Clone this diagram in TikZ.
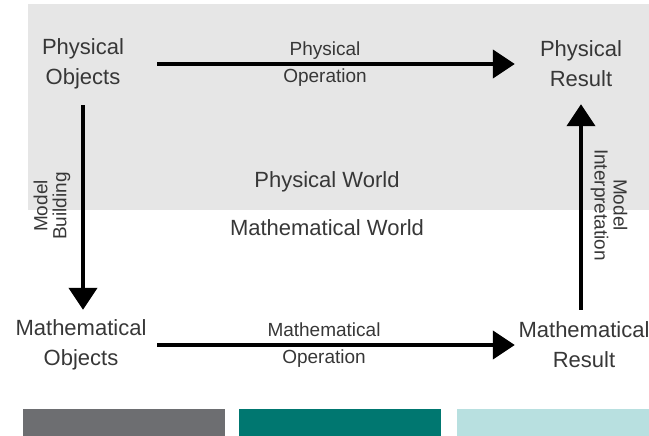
\documentclass[tikz,border=0pt]{standalone}
\usepackage{fontspec}
\setmainfont{Liberation Sans}
\usetikzlibrary{arrows.meta}
\definecolor{txt}{RGB}{55,55,55}
\definecolor{bgworld}{RGB}{230,230,230}
\definecolor{bargray}{RGB}{109,110,113}
\definecolor{barteal}{RGB}{0,119,112}
\definecolor{barlight}{RGB}{184,224,224}
\tikzset{
  big/.style={text=txt, font=\fontsize{22}{30}\selectfont, align=center, inner sep=0pt},
  small/.style={text=txt, font=\fontsize{19}{27}\selectfont, align=center, inner sep=0pt},
  side/.style={text=txt, font=\fontsize{19}{19}\selectfont, align=center, inner sep=0pt},
  anchorbox/.style={big},
  conn/.style={line width=4.5pt, -{Triangle[length=22pt,width=28pt]}},
}
\begin{document}
\begin{tikzpicture}[x=1pt,y=-1pt]
\useasboundingbox (0,0) rectangle (649,436);
\fill[bgworld] (28,4) rectangle (649,210);
\fill[bargray] (23,409) rectangle (225,436);
\fill[barteal] (239,409) rectangle (441,436);
\fill[barlight] (457,409) rectangle (649,436);

\node[anchorbox, minimum width=148pt, minimum height=82pt] (po) at (83,64) {Physical\\Objects};
\node[anchorbox, minimum width=132pt, minimum height=80pt] (pr) at (581,64) {Physical\\Result};
\node[anchorbox, minimum width=152pt, minimum height=70pt] (mo) at (81,345) {Mathematical\\Objects};
\node[anchorbox, minimum width=138pt, minimum height=70pt] (mr) at (584,345) {Mathematical\\Result};

\node[big] (pw) at (327,182) {Physical World};
\node[big] (mw) at (327,228) {Mathematical World};

\draw[conn] (po.east) -- (pr.west);
\draw[conn] (mo.east) -- (mr.west);
\draw[conn] (po.south) -- (po.south |- mo.north);
\draw[conn] (mr.north -| pr.south) -- (pr.south);

\node[small] (pop) at (325,64) {Physical\\Operation};
\node[small] (mop) at (324,345) {Mathematical\\Operation};
\node[side, rotate=90] (mb) at (52,206) {Model\\Building};
\node[side, rotate=-90] (mi) at (609,205) {Model\\Interpretation};
\end{tikzpicture}
\end{document}
